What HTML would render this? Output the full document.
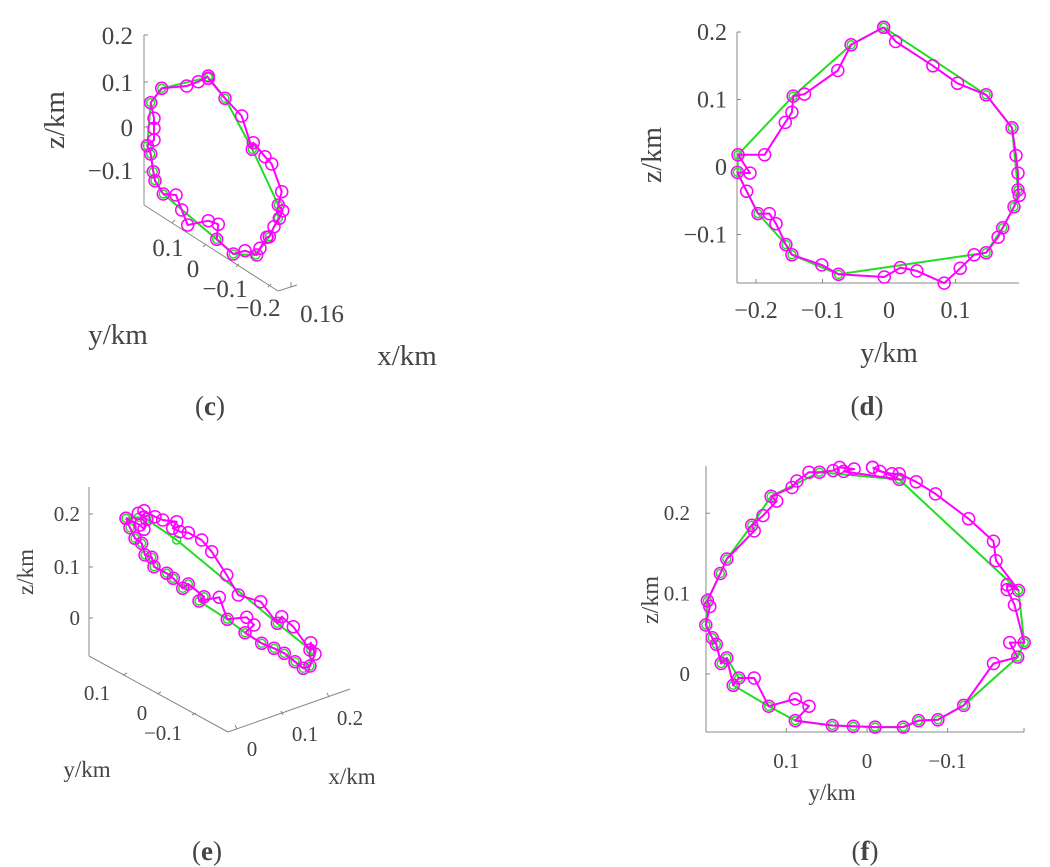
<!DOCTYPE html>
<html><head><meta charset="utf-8"><style>
html,body{margin:0;padding:0;background:#fff;}
svg{display:block;font-family:"Liberation Serif",serif;}
.t{fill:#444;}
</style></head><body>
<svg id="fig" width="1050" height="867" viewBox="0 0 1050 867" xmlns="http://www.w3.org/2000/svg">
<g id="gc"></g>
<g id="gd"></g>
<g id="ge"></g>
<g id="gf"></g>
</svg>
<script>
// Panel d (y, z in km)
const dMagY=[-0.008,0.010,0.066,0.103,0.146,0.185,0.191,0.194,0.194,0.196,0.188,0.171,0.164,0.146,0.128,0.107,0.083,0.042,0.017,-0.007,-0.076,-0.101,-0.146,-0.155,-0.170,-0.180,-0.197,-0.214,-0.228,-0.209,-0.227,-0.187,-0.156,-0.146,-0.144,-0.127,-0.077,-0.057,-0.008];
const dMagZ=[0.207,0.186,0.150,0.124,0.107,0.058,0.017,-0.009,-0.034,-0.042,-0.059,-0.090,-0.104,-0.127,-0.130,-0.150,-0.172,-0.154,-0.149,-0.163,-0.159,-0.145,-0.130,-0.115,-0.084,-0.069,-0.069,-0.036,-0.008,-0.009,0.018,0.018,0.066,0.081,0.105,0.108,0.143,0.181,0.207];
const dGrnY=[-0.008,-0.057,-0.144,-0.227,-0.228,-0.197,-0.155,-0.146,-0.076,0.146,0.171,0.188,0.194,0.185,0.146,-0.008];
const dGrnZ=[0.207,0.181,0.105,0.018,-0.008,-0.069,-0.115,-0.130,-0.159,-0.127,-0.090,-0.059,-0.034,0.058,0.107,0.207];
const dXTicks=[-0.2,-0.1,0,0.1];
const dZTicks=[0.2,0.1,0,-0.1];
// Panel f (y, z in km), y axis reversed
const fMagY=[-0.007,-0.016,-0.031,-0.040,-0.061,-0.085,-0.126,-0.157,-0.160,-0.188,-0.174,-0.174,-0.183,-0.195,-0.177,-0.187,-0.157,-0.120,-0.088,-0.064,-0.045,-0.010,0.017,0.043,0.089,0.072,0.089,0.122,0.140,0.159,0.166,0.174,0.181,0.187,0.192,0.200,0.195,0.198,0.182,0.174,0.140,0.143,0.129,0.112,0.119,0.093,0.087,0.072,0.059,0.042,0.034,0.016,0.029,-0.040,-0.007];
const fMagZ=[0.257,0.252,0.249,0.249,0.239,0.224,0.193,0.165,0.141,0.104,0.111,0.105,0.086,0.039,0.039,0.021,0.013,-0.039,-0.057,-0.058,-0.066,-0.066,-0.065,-0.064,-0.058,-0.040,-0.031,-0.040,-0.005,-0.005,-0.014,0.020,0.013,0.037,0.045,0.061,0.084,0.091,0.125,0.143,0.178,0.185,0.197,0.215,0.221,0.232,0.240,0.251,0.251,0.253,0.257,0.255,0.252,0.242,0.257];
const fGrnY=[-0.040,0.059,0.119,0.143,0.174,0.182,0.198,0.200,0.192,0.187,0.181,0.174,0.159,0.166,0.122,0.089,0.043,0.017,-0.010,-0.045,-0.064,-0.088,-0.120,-0.187,-0.195,-0.188,-0.040];
const fGrnZ=[0.242,0.251,0.221,0.185,0.143,0.125,0.091,0.061,0.045,0.037,0.013,0.020,-0.005,-0.014,-0.040,-0.058,-0.064,-0.065,-0.066,-0.066,-0.058,-0.057,-0.039,0.021,0.039,0.104,0.242];
const fXTicks=[0.1,0,-0.1];
const fZTicks=[0.2,0.1,0];
// Panel c (projected view coordinates)
const cMagU=[625,595,560,485,452,462,462,462,442,452,460,465,490,528,545,563,625,655,650,700,735,770,780,800,808,822,838,848,835,845,815,795,760,757,725,675,625];
const cMagV=[228,245,258,265,308,355,385,420,437,462,515,542,582,585,630,675,662,673,718,762,752,765,745,712,710,680,655,632,615,575,492,470,428,448,348,295,235];
const cGrnU=[625,485,452,442,452,460,465,490,650,700,768,808,835,835,757,675,625];
const cGrnV=[232,265,308,437,462,515,542,582,718,762,765,710,655,615,448,295,232];
// Panel e (projected view coordinates)
const eMagU=[378,390,405,425,435,455,462,500,520,548,565,612,597,658,682,740,762,735,785,822,853,885,910,930,945,932,930,880,845,832,782,715,680,635,605,565,540,518,530,488,465,432,415,440,432,420,378];
const eMagV=[175,203,235,250,285,292,320,340,355,385,372,410,423,412,478,472,495,518,550,565,580,605,625,618,582,548,570,500,470,490,425,405,345,275,240,218,215,205,185,180,170,152,160,178,208,195,175];
const eGrnU=[378,390,405,425,435,455,462,500,520,548,565,612,597,682,735,785,822,853,885,910,930,932,832,530,440,415,378];
const eGrnV=[175,203,235,250,285,292,320,340,355,385,372,410,423,478,518,550,565,580,605,625,618,570,490,240,178,172,175];

const NS='http://www.w3.org/2000/svg';
function mk(parent,tag,attrs,name){const e=document.createElementNS(NS,tag);for(const k in attrs)e.setAttribute(k,attrs[k]);


parent.appendChild(e);return e;}
function txt(parent,x,y,s,size,anchor,name,extra){const e=mk(parent,'text',Object.assign({x:x,y:y,'font-size':size,'text-anchor':anchor||'middle',class:'t'},extra||{}),name);e.textContent=s;return e;}
function series(g,xs,ys,fx,fy,color,r,name){
  let d='';for(let i=0;i<xs.length;i++)d+=(i?'L':'M')+fx(xs[i]).toFixed(1)+','+fy(ys[i]).toFixed(1);
  mk(g,'path',{d:d,fill:'none',stroke:color,'stroke-width':2,'stroke-linejoin':'round'},name+'-line');
  for(let i=0;i<xs.length;i++)mk(g,'circle',{cx:fx(xs[i]).toFixed(1),cy:fy(ys[i]).toFixed(1),r:r,fill:'none',stroke:color,'stroke-width':1.5},name+'-marker');
}
const GRN='#22dd22',MAG='#ff00ff',AX='#888';
function line(g,x1,y1,x2,y2,name){mk(g,'line',{x1:x1,y1:y1,x2:x2,y2:y2,stroke:AX,'stroke-width':1},name);}

// ---- Panel d
(function(){const g=document.getElementById('gd');
const fx=v=>889+v*665, fy=v=>167-v*675;
line(g,737,32,737,283,'z-axis');line(g,737,283,1019,283,'y-axis');
dXTicks.forEach(t=>{line(g,fx(t),283,fx(t),279,'y-tick');txt(g,fx(t),318,(t<0?'−':'')+Math.abs(t),24,'middle','y-tick-label');});
dZTicks.forEach(t=>{line(g,737,fy(t),741,fy(t),'z-tick');txt(g,727,fy(t)+8,(t<0?'−':'')+Math.abs(t),24,'end','z-tick-label');});
txt(g,889,362,'y/km',28,'middle','y-axis-title');
txt(g,0,0,'z/km',28,'middle','z-axis-title',{transform:'translate(661,155) rotate(-90)'});
series(g,dGrnY,dGrnZ,fx,fy,GRN,4,'green-series');
series(g,dMagY,dMagZ,fx,fy,MAG,6,'magenta-series');
txt(g,867,415,'',27,'middle','panel-label').innerHTML='(<tspan font-weight="bold">d</tspan>)';
})();
// ---- Panel f
(function(){const g=document.getElementById('gf');
const fx=v=>867-v*806, fy=v=>674-v*804;
line(g,706,466,706,732,'z-axis');line(g,706,732,1024,732,'y-axis');line(g,1024,728,1024,732,'y-axis-end');
fXTicks.forEach(t=>{line(g,fx(t),732,fx(t),728,'y-tick');txt(g,fx(t),768,(t<0?'−':'')+Math.abs(t),21,'middle','y-tick-label');});
fZTicks.forEach(t=>{line(g,706,fy(t),710,fy(t),'z-tick');txt(g,690,fy(t)+7,(t<0?'−':'')+Math.abs(t),21,'end','z-tick-label');});
txt(g,832,800,'y/km',23,'middle','y-axis-title');
txt(g,0,0,'z/km',24,'middle','z-axis-title',{transform:'translate(658,600) rotate(-90)'});
series(g,fGrnY,fGrnZ,fx,fy,GRN,4,'green-series');
series(g,fMagY,fMagZ,fx,fy,MAG,6,'magenta-series');
txt(g,865,860,'',27,'middle','panel-label').innerHTML='(<tspan font-weight="bold">f</tspan>)';
})();
// ---- Panel c
(function(){const g=document.getElementById('gc');
const fx=u=>u/3, fy=v=>v/3;
line(g,144,35,144,205,'z-axis');line(g,144,205,278,291,'y-axis');line(g,278,291,297,285,'x-axis');
[[144,35],[144,82],[144,127],[144,172]].forEach(p=>line(g,p[0],p[1],p[0]+4,p[1],'z-tick'));
[[172,223],[203,247],[236,267],[268,287]].forEach(p=>line(g,p[0],p[1],p[0]+3,p[1]-3,'y-tick'));
line(g,291,287,291,282,'x-tick');
[['0.2',35],['0.1',82],['0',127],['−0.1',170]].forEach(a=>txt(g,133,a[1]+9,a[0],25,'end','z-tick-label'));
[['0.1',168,256],['0',193,277],['−0.1',225,297],['−0.2',258,316],['0.16',322,322]].forEach(a=>txt(g,a[1],a[2],a[0],25,'middle','tick-label'));
txt(g,118,344,'y/km',29,'middle','y-axis-title');
txt(g,407,365,'x/km',29,'middle','x-axis-title');
txt(g,0,0,'z/km',29,'middle','z-axis-title',{transform:'translate(64,120) rotate(-90)'});
series(g,cGrnU,cGrnV,fx,fy,GRN,4,'green-series');
series(g,cMagU,cMagV,fx,fy,MAG,6,'magenta-series');
txt(g,210,415,'',27,'middle','panel-label').innerHTML='(<tspan font-weight="bold">c</tspan>)';
})();
// ---- Panel e
(function(){const g=document.getElementById('ge');
const fx=u=>u/3, fy=v=>460+v/3;
line(g,89,487,89,656,'z-axis');line(g,89,656,228,732,'y-axis');line(g,228,732,350,689,'x-axis');
[514,567,618].forEach(y=>line(g,89,y,93,y,'z-tick'));
[[123,675],[157,694],[192,715]].forEach(p=>line(g,p[0],p[1],p[0]+4,p[1]-2,'y-tick'));
[[237,729],[283,715],[329,697]].forEach(p=>line(g,p[0],p[1],p[0]-2,p[1]-4,'x-tick'));
[['0.2',514],['0.1',567],['0',618]].forEach(a=>txt(g,80,a[1]+7,a[0],21,'end','z-tick-label'));
[['0.1',97,700],['0',142,720],['−0.1',163,740],['0',252,756],['0.1',305,741],['0.2',350,725]].forEach(a=>txt(g,a[1],a[2],a[0],21,'middle','tick-label'));
txt(g,87,777,'y/km',23,'middle','y-axis-title');
txt(g,352,784,'x/km',23,'middle','x-axis-title');
txt(g,0,0,'z/km',23,'middle','z-axis-title',{transform:'translate(33,572) rotate(-90)'});
series(g,eGrnU,eGrnV,fx,fy,GRN,4,'green-series');
series(g,eMagU,eMagV,fx,fy,MAG,6,'magenta-series');
txt(g,207,860,'',27,'middle','panel-label').innerHTML='(<tspan font-weight="bold">e</tspan>)';
})();
</script>
</body></html>
